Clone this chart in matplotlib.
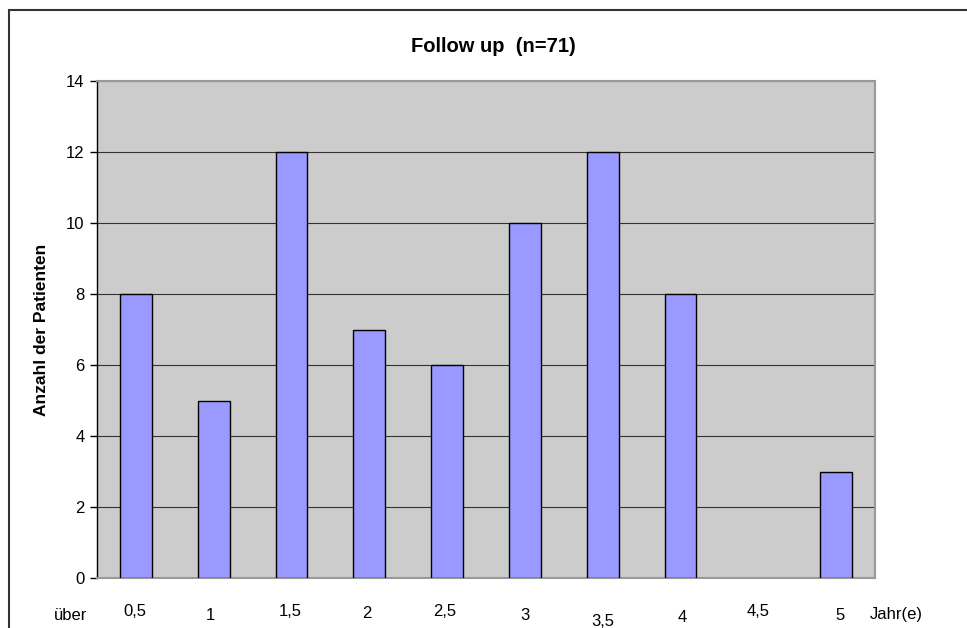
import matplotlib.pyplot as plt
from matplotlib.patches import Rectangle

plt.rcParams['font.family'] = ['Liberation Sans', 'DejaVu Sans']

# Follow-up duration classes and patient counts
categories = ["0,5", "1", "1,5", "2", "2,5", "3", "3,5", "4", "4,5", "5"]
counts = [8, 5, 12, 7, 6, 10, 12, 8, 0, 3]
yticks = [0, 2, 4, 6, 8, 10, 12, 14]

W, H = 967, 628
fig = plt.figure(figsize=(W / 100, H / 100), dpi=100)

# outer chart frame (runs off the right and bottom edge)
fig.patches.append(Rectangle((9 / W, -0.1), 1.2, 1 - 10 / H + 0.1,
                             transform=fig.transFigure, fill=False,
                             edgecolor='#333333', linewidth=1.5))

ax = fig.add_axes([97 / W, 1 - 578 / H, (875 - 97) / W, (578 - 81) / H])
ax.set_facecolor('#CCCCCC')

x = list(range(len(categories)))
widths = [1 if c > 0 else 0 for c in counts]
ax.bar(x, counts, width=0.41, color='#9999FF', edgecolor='black',
       linewidth=widths, zorder=3)

ax.set_xlim(-0.5, len(categories) - 0.5)
ax.set_ylim(0, 14)
ax.set_yticks(yticks)
ax.set_xticks([])
ax.yaxis.grid(True, color='#333333', linewidth=0.8, zorder=1)
ax.tick_params(axis='y', direction='out', length=5, width=1,
               labelsize=12, pad=4)

for side in ('top', 'right', 'bottom'):
    ax.spines[side].set_color('#999999')
    ax.spines[side].set_linewidth(1.5)
ax.spines['left'].set_color('black')
ax.spines['left'].set_linewidth(1)

ax.set_ylabel("Anzahl der Patienten", fontsize=12.5, fontweight='bold',
              labelpad=12)
fig.text(493 / W, 1 - 46 / H, "Follow up  (n=71)", fontsize=14.5,
         fontweight='bold', ha='center', va='center')

# free-standing axis captions below the plot
label_x = [135, 210, 290, 367, 445, 525, 603, 682, 758, 840]
label_y = [612, 616, 612, 613, 612, 616, 621, 618, 612, 616]
for lab, lx, ly in zip(categories, label_x, label_y):
    fig.text(lx / W, 1 - ly / H, lab, fontsize=12, ha='center', va='center')
fig.text(71 / W, 1 - 615 / H, "über", fontsize=12, ha='center', va='center')
fig.text(896 / W, 1 - 614 / H, "Jahr(e)", fontsize=12, ha='center',
         va='center')

fig.savefig("out.png", dpi=100)
